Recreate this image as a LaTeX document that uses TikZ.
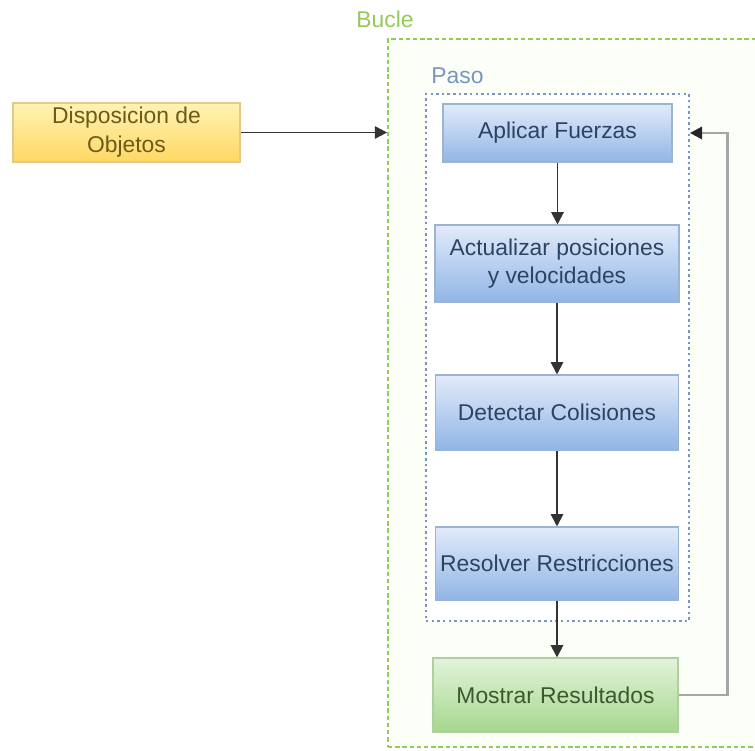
\documentclass[tikz,border=0pt]{standalone}
\usepackage{fontspec}
\setmainfont{Liberation Sans}
\usetikzlibrary{arrows.meta,positioning,calc}

\definecolor{azulclaro}{HTML}{E2EBFA}
\definecolor{azuloscuro}{HTML}{91B5E5}
\definecolor{azulborde}{HTML}{9CB4D4}
\definecolor{azultexto}{HTML}{2C4464}
\definecolor{verdeclaro}{HTML}{E2F3DA}
\definecolor{verdeoscuro}{HTML}{A6D78E}
\definecolor{verdeborde}{HTML}{AFCF9E}
\definecolor{verdetexto}{HTML}{3A5A2E}
\definecolor{amarilloclaro}{HTML}{FFF3B4}
\definecolor{amarillooscuro}{HTML}{FFD863}
\definecolor{amarilloborde}{HTML}{E4C98C}
\definecolor{amarillotexto}{HTML}{6B5A1C}
\definecolor{bucleverde}{HTML}{95C95A}
\definecolor{pasoazul}{HTML}{7896C0}

\begin{document}
\begin{tikzpicture}[font=\fontsize{13}{15.5}\selectfont]
    \def\colx{11.14}
    \tikzstyle{caja}=[rectangle, draw, line width=0.6pt, align=center, inner sep=2pt]
    \tikzstyle{etapa}=[caja, top color=azulclaro, bottom color=azuloscuro, draw=azulborde, text=azultexto, minimum width=4.86cm, minimum height=1.5cm]
    \tikzstyle{salida}=[caja, top color=verdeclaro, bottom color=verdeoscuro, draw=verdeborde, text=verdetexto, minimum width=4.9cm, minimum height=1.48cm]
    \tikzstyle{entrada}=[caja, top color=amarilloclaro, bottom color=amarillooscuro, draw=amarilloborde, text=amarillotexto, minimum width=4.54cm, minimum height=1.18cm]
    \tikzstyle{grupo bucle}=[rectangle, draw=bucleverde, fill=green!40!yellow!3, line width=1pt, dash pattern=on 2.5pt off 1.6pt]
    \tikzstyle{grupo paso}=[rectangle, draw=pasoazul, fill=white, line width=1pt, dash pattern=on 1.4pt off 1.8pt]
    \tikzstyle{etiqueta}=[inner sep=0pt, anchor=base west]
    \tikzstyle{flecha}=[-{Triangle[length=7pt,width=7pt]}, line width=1.1pt, black!80]

\useasboundingbox (0,0) rectangle (15.1,-15.02);

% Bucle (abierto por la derecha)
\begin{scope}
  \clip (0,0) rectangle (15.1,-15.02);
  \node[grupo bucle, minimum width=7.84cm, minimum height=14.16cm] (bucle) at (11.68,-7.86) {};
\end{scope}
\node[etiqueta, text=bucleverde] (bucle-lbl) at ([xshift=-0.62cm,yshift=0.22cm]bucle.north west) {Bucle};

% Paso
\node[grupo paso, minimum width=5.26cm, minimum height=10.54cm] (paso) at (11.15,-7.15) {};
\node[etiqueta, text=pasoazul] (paso-lbl) at ([xshift=0.12cm,yshift=0.2cm]paso.north west) {Paso};

% Entrada
\node[entrada] (disp) at (2.53,-2.65) {Disposicion de\\[1pt]Objetos};

% Etapas del paso
\node[etapa, minimum width=4.58cm, minimum height=1.16cm] (aplicar) at (11.15,-2.66) {Aplicar Fuerzas};
\node[etapa, minimum width=4.88cm, minimum height=1.54cm] (actualizar) at (\colx,-5.27) {Actualizar posiciones\\y velocidades};
\node[etapa] (detectar) at (\colx,-8.25) {Detectar Colisiones};
\node[etapa, minimum height=1.46cm] (resolver) at (\colx,-11.27) {Resolver Restricciones};

% Salida
\node[salida] (mostrar) at (11.11,-13.9) {Mostrar Resultados};

% Flechas
\draw[flecha] (disp.east) -- (disp.east -| bucle.west);
\draw[flecha] (aplicar) -- (aplicar |- actualizar.north);
\draw[flecha] (actualizar) -- (detectar);
\draw[flecha] (detectar) -- (resolver);
\draw[flecha] (resolver) -- (resolver |- mostrar.north);

% Vuelta al principio del paso
\coordinate (vuelta) at ([xshift=0.98cm]mostrar.east);
\draw[-{Triangle[length=7pt,width=7pt,color=black!85]}, line width=1.5pt, black!35] (mostrar.east) -- (vuelta) |- (aplicar.east -| paso.east);

\end{tikzpicture}
\end{document}
